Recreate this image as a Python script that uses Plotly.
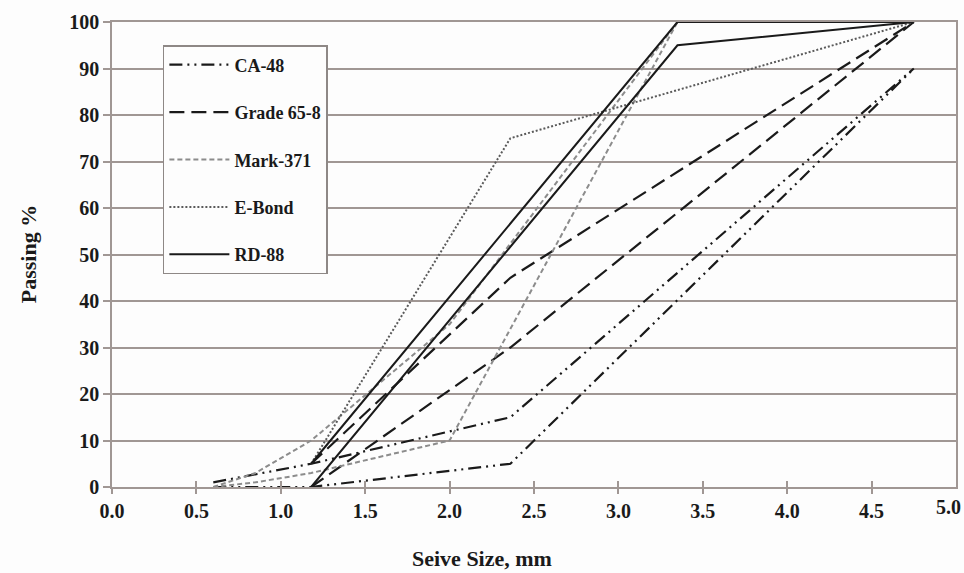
import plotly.graph_objects as go

# Sieve openings (mm) and percent passing for the lower / upper band of each product
ca48_lower_x = [0.6, 1.18, 2.36, 4.75]
ca48_lower_y = [0, 0, 5, 90]
ca48_upper_x = [0.6, 1.18, 2.36, 4.75]
ca48_upper_y = [1, 5, 15, 90]

grade_lower_x = [1.18, 2.36, 4.75]
grade_lower_y = [0, 30, 100]
grade_upper_x = [1.18, 2.36, 4.75]
grade_upper_y = [5, 45, 100]

mark_lower_x = [0.6, 0.85, 1.18, 2.0, 3.35, 4.75]
mark_lower_y = [0, 1, 3, 10, 100, 100]
mark_upper_x = [0.6, 0.85, 1.18, 2.0, 3.35, 4.75]
mark_upper_y = [0, 3, 10, 35, 100, 100]

ebond_x = [1.18, 2.36, 4.75]
ebond_y = [5, 75, 100]

rd_lower_x = [1.18, 3.35, 4.75]
rd_lower_y = [0, 95, 100]
rd_upper_x = [1.18, 3.35, 4.75]
rd_upper_y = [5, 100, 100]

x_ticks = [0.0, 0.5, 1.0, 1.5, 2.0, 2.5, 3.0, 3.5, 4.0, 4.5, 5.0]
y_ticks = [0, 10, 20, 30, 40, 50, 60, 70, 80, 90, 100]

FONT = "Liberation Serif"
INK = "#1a1a1a"
GRID = "#a09794"
BG = "#fdfdfd"

styles = {
    "CA-48": dict(color=INK, width=2.2, dash="13px,5px,2px,5px,2px,5px"),
    "Grade 65-8": dict(color=INK, width=2.2, dash="15px,7px"),
    "Mark-371": dict(color="#8c8c8c", width=2.0, dash="5px,3px"),
    "E-Bond": dict(color="#5a5a5a", width=2.0, dash="2px,2px"),
    "RD-88": dict(color=INK, width=2.0, dash="solid"),
}

series = [
    ("CA-48", ca48_upper_x, ca48_upper_y, True),
    ("CA-48", ca48_lower_x, ca48_lower_y, False),
    ("Grade 65-8", grade_upper_x, grade_upper_y, True),
    ("Grade 65-8", grade_lower_x, grade_lower_y, False),
    ("Mark-371", mark_upper_x, mark_upper_y, True),
    ("Mark-371", mark_lower_x, mark_lower_y, False),
    ("E-Bond", ebond_x, ebond_y, True),
    ("RD-88", rd_upper_x, rd_upper_y, True),
    ("RD-88", rd_lower_x, rd_lower_y, False),
]

fig = go.Figure()
for name, xs, ys, show in series:
    fig.add_trace(go.Scatter(
        x=xs, y=ys, mode="lines", name=name, legendgroup=name,
        showlegend=show, line=styles[name], hoverinfo="x+y+name",
    ))

# invisible trace carrying a second x axis with inward ticks,
# so the x tick marks cross the baseline
fig.add_trace(go.Scatter(x=[0, 5], y=[0, 0], xaxis="x2", mode="lines",
                         line=dict(width=0), showlegend=False, hoverinfo="skip"))

tick_font = dict(family=FONT, size=20, color=INK, weight="bold")

L, R, T, B = 112, 6, 22, 86
W, H = 964, 573
pw, ph = W - L - R, H - T - B

fig.update_layout(
    width=W, height=H,
    margin=dict(l=L, r=R, t=T, b=B),
    paper_bgcolor=BG, plot_bgcolor=BG,
    font=dict(family=FONT, size=18, color=INK),
    showlegend=True,
    legend=dict(
        x=(163 - L) / pw, y=(T + ph - 45) / ph, xanchor="left", yanchor="top",
        bgcolor=BG, bordercolor="#8e8886", borderwidth=1.5,
        font=dict(family=FONT, size=18, color=INK, weight="bold"),
        tracegroupgap=21, itemwidth=60,
        entrywidth=134, entrywidthmode="pixels",
    ),
    xaxis=dict(
        range=[0, 5], tickvals=x_ticks[:-1],
        ticktext=[f"{v:.1f}" for v in x_ticks[:-1]],
        showgrid=False, zeroline=False,
        showline=True, linecolor=GRID, linewidth=1.5, mirror=True,
        ticks="outside", ticklen=5, tickcolor=GRID, tickwidth=1.5,
        tickfont=tick_font,
    ),
    xaxis2=dict(
        range=[0, 5], overlaying="x", side="bottom", anchor="y",
        tickvals=x_ticks, showticklabels=False, showgrid=False, zeroline=False,
        ticks="inside", ticklen=6, tickcolor=GRID, tickwidth=1.5, showline=False,
    ),
    yaxis=dict(
        range=[0, 100], tickvals=y_ticks,
        showgrid=True, gridcolor=GRID, gridwidth=1.5, zeroline=False,
        showline=True, linecolor=GRID, linewidth=1.5, mirror=True,
        ticks="outside", ticklen=7, tickcolor=GRID, tickwidth=1.5,
        tickfont=tick_font,
    ),
    annotations=[
        dict(text="Seive Size, mm", xref="paper", yref="paper",
             x=(483 - L) / pw, y=(T + ph - 558) / ph,
             xanchor="center", yanchor="middle", showarrow=False,
             font=dict(family=FONT, size=22, color=INK, weight="bold")),
        dict(text="Passing %", xref="paper", yref="paper",
             x=(28 - L) / pw, y=(T + ph - 254) / ph,
             xanchor="center", yanchor="middle", showarrow=False, textangle=-90,
             font=dict(family=FONT, size=22, color=INK, weight="bold")),
        # last x tick label, nudged so it stays inside the page edge
        dict(text=f"{x_ticks[-1]:.1f}", xref="x", yref="paper",
             x=x_ticks[-1], y=0, yshift=-20, xshift=-8,
             xanchor="center", yanchor="middle",
             showarrow=False, font=tick_font),
    ],
)

fig.write_html("out.html")
